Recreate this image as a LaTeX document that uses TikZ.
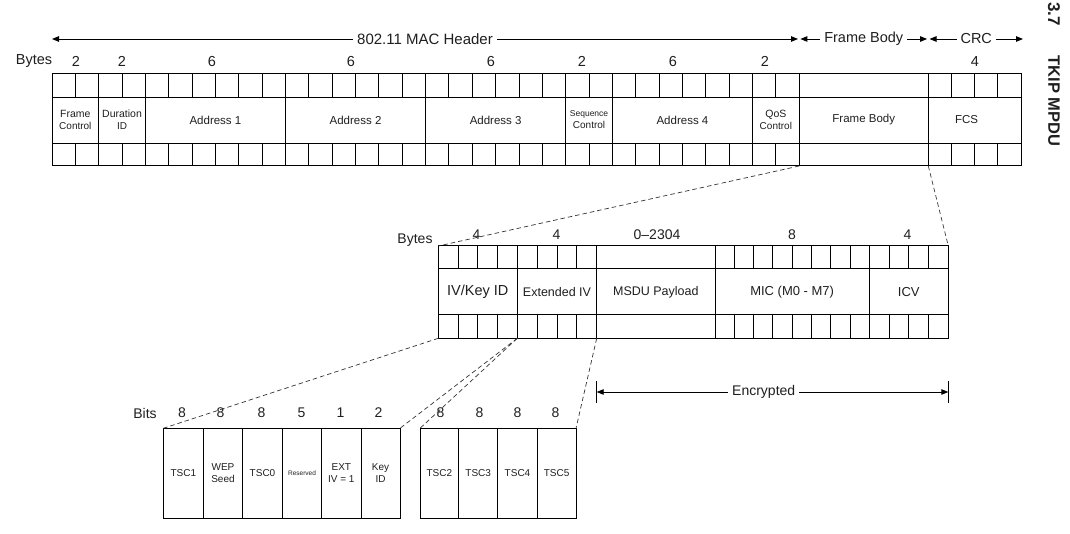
\documentclass[tikz,border=0pt]{standalone}
\usepackage{fontspec}
\setmainfont{Liberation Sans}
\usetikzlibrary{arrows.meta}
\newcommand\mkfield[6]{%
  \node[fld, minimum width={(#3-#2)*1pt}, minimum height={(#5-#4)*1pt}] (#1) at ({(#2+#3)/2},{(#4+#5)/2}) {#6};}
\newcommand\fs[1]{\fontsize{#1pt}{\dimexpr #1pt*6/5\relax}\selectfont}
\begin{document}
\begin{tikzpicture}[x=1pt,y=-1pt,
  fld/.style={draw, line width=1pt, inner sep=0pt, outer sep=0pt, align=center, text=black!88},
  grid/.style={line width=1pt},
  lbl/.style={text=black!88, inner sep=1pt},
  dimarrow/.style={line width=0.9pt, {Triangle[length=7pt,width=5.5pt]}-{Triangle[length=7pt,width=5.5pt]}},
  tag/.style={fill=white, text=black!88, inner xsep=4pt, inner ysep=1pt},
  zoomline/.style={line width=0.7pt, dash pattern=on 4.5pt off 3pt, black!80}
]
\useasboundingbox (0,0) rectangle (1070,534);

% ---------- top frame ----------
\mkfield{fc}{52}{98.7}{74}{166}{\fs{10.5}Frame\\Control}
\mkfield{dur}{98.7}{145.4}{74}{166}{\fs{10.5}Duration\\ID}
\mkfield{a1}{145.4}{285.5}{74}{166}{\fs{11.5}Address 1}
\mkfield{a2}{285.5}{425.6}{74}{166}{\fs{11.5}Address 2}
\mkfield{a3}{425.6}{565.7}{74}{166}{\fs{11.5}Address 3}
\mkfield{seq}{565.7}{612.4}{74}{166}{\fs{8.5}Sequence\\Control}
\mkfield{a4}{612.4}{752.5}{74}{166}{\fs{11.5}Address 4}
\mkfield{qos}{752.5}{799.2}{74}{166}{\fs{10.5}QoS\\Control}
\mkfield{fb}{799.2}{928.3}{74}{166}{\fs{11.5}Frame Body}
\mkfield{fcs}{928.3}{1021}{74}{166}{\fs{11.5}FCS\hspace{16pt}}
\draw[grid] (fc.west |- 0,97.5) -- (fcs.east |- 0,97.5);
\draw[grid] (fc.west |- 0,143.3) -- (fcs.east |- 0,143.3);
\foreach \i in {1,...,31} {
  \draw[grid] ({52+\i*23.35},74) -- ({52+\i*23.35},97.5);
  \draw[grid] ({52+\i*23.35},143.3) -- ({52+\i*23.35},166);
}
\foreach \i in {1,2,3} {
  \draw[grid] ({928.3+\i*23.175},74) -- ({928.3+\i*23.175},97.5);
  \draw[grid] ({928.3+\i*23.175},143.3) -- ({928.3+\i*23.175},166);
}
% byte counts
\node[lbl, font=\fs{14.5}] (tbytes) at (34,61.5) {Bytes};
\foreach \x/\t in {76/2,122/2,212/6,351/6,491/6,582/2,673/6,765/2,975/4}
  \node[lbl, font=\fs{14.5}] at (\x,61.5) {\t};
% header arrows
\coordinate (hy) at (0,39);
\draw[dimarrow] (fc.north west |- hy) -- ([xshift=-1.2pt]qos.north east |- hy)
  node[midway, tag, font=\fs{15}] {802.11 MAC Header};
\draw[dimarrow] ([xshift=1.2pt]fb.north west |- hy) -- ([xshift=-1.2pt]fb.north east |- hy)
  node[midway, tag, font=\fs{14.5}] {Frame Body};
\draw[dimarrow] ([xshift=1.2pt]fcs.north west |- hy) -- ([xshift=2pt]fcs.north east |- hy)
  node[midway, tag, font=\fs{14.5}] {CRC};
% side title
\node[rotate=-90, font=\bfseries\fs{17}, text=black!88] (sec) at (1054,14) {3.7};
\node[rotate=-90, font=\bfseries\fs{16.5}, text=black!88] (ttl) at (1054,101) {TKIP MPDU};

% ---------- middle frame ----------
\mkfield{iv}{438.3}{517.3}{246}{338.3}{\fs{14.5}IV/Key ID}
\mkfield{ext}{517.3}{596.7}{246}{338.3}{\fs{12.5}Extended IV}
\mkfield{msdu}{596.7}{715}{246}{338.3}{\fs{12.5}MSDU Payload}
\mkfield{mic}{715}{869.3}{246}{338.3}{\fs{13}MIC (M0 - M7)}
\mkfield{icv}{869.3}{948.3}{246}{338.3}{\fs{13}ICV}
\draw[grid] (iv.west |- 0,268.3) -- (icv.east |- 0,268.3);
\draw[grid] (iv.west |- 0,315) -- (icv.east |- 0,315);
\foreach \s/\w/\n in {438.3/19.75/3, 517.3/19.85/3, 715/19.29/7, 869.3/19.75/3} {
  \foreach \i in {1,...,\n} {
    \draw[grid] ({\s+\i*\w},246) -- ({\s+\i*\w},268.3);
    \draw[grid] ({\s+\i*\w},315) -- ({\s+\i*\w},338.3);
  }
}
\node[lbl, font=\fs{14}] (mbytes) at (415,240) {Bytes};
\foreach \x/\t in {476.5/4,556.5/4,657/0--2304,792/8,907.5/4}
  \node[lbl, font=\fs{14}] at (\x,235) {\t};
% encrypted
\coordinate (enc) at (0,392);
\coordinate (bt) at (0,381);
\coordinate (bb) at (0,403);
\draw[grid] (msdu.south west |- bt) -- (msdu.south west |- bb);
\draw[grid] (icv.south east |- bt) -- (icv.south east |- bb);
\draw[dimarrow] (msdu.south west |- enc) -- (icv.south east |- enc)
  node[pos=0.475, tag, font=\fs{14}] {Encrypted};

% ---------- bottom bit fields ----------
\mkfield{tsc1}{163.3}{203.3}{428.3}{518}{\fs{10}TSC1}
\mkfield{wep}{203.3}{242.7}{428.3}{518}{\fs{10}WEP\\Seed}
\mkfield{tsc0}{242.7}{282.3}{428.3}{518}{\fs{10}TSC0}
\mkfield{res}{282.3}{321.7}{428.3}{518}{\fs{6.5}Reserved}
\mkfield{extone}{321.7}{361}{428.3}{518}{\fs{10}EXT\\IV = 1}
\mkfield{keyid}{361}{400}{428.3}{518}{\fs{10}Key\\ID}
\mkfield{tsc2}{420}{458.7}{428.3}{518}{\fs{10}TSC2}
\mkfield{tsc3}{458.7}{497.7}{428.3}{518}{\fs{10}TSC3}
\mkfield{tsc4}{497.7}{537.3}{428.3}{518}{\fs{10}TSC4}
\mkfield{tsc5}{537.3}{576}{428.3}{518}{\fs{10}TSC5}
\node[lbl, font=\fs{14}] (bits) at (145,413) {Bits};
\foreach \x/\t in {182/8,220.5/8,261.5/8,301.5/5,340.5/1,378.5/2,440.5/8,479.5/8,517.5/8,555.5/8}
  \node[lbl, font=\fs{14}] at (\x,413) {\t};

% ---------- dashed expansion lines ----------
\draw[zoomline] (fb.south west) -- (iv.north west);
\draw[zoomline] (fcs.south west) -- (icv.north east);
\draw[zoomline] (iv.south west) -- (tsc1.north west);
\draw[zoomline] (iv.south east) -- (keyid.north east);
\draw[zoomline] (ext.south west) -- (tsc2.north west);
\draw[zoomline] (ext.south east) -- (tsc5.north east);
\end{tikzpicture}
\end{document}
